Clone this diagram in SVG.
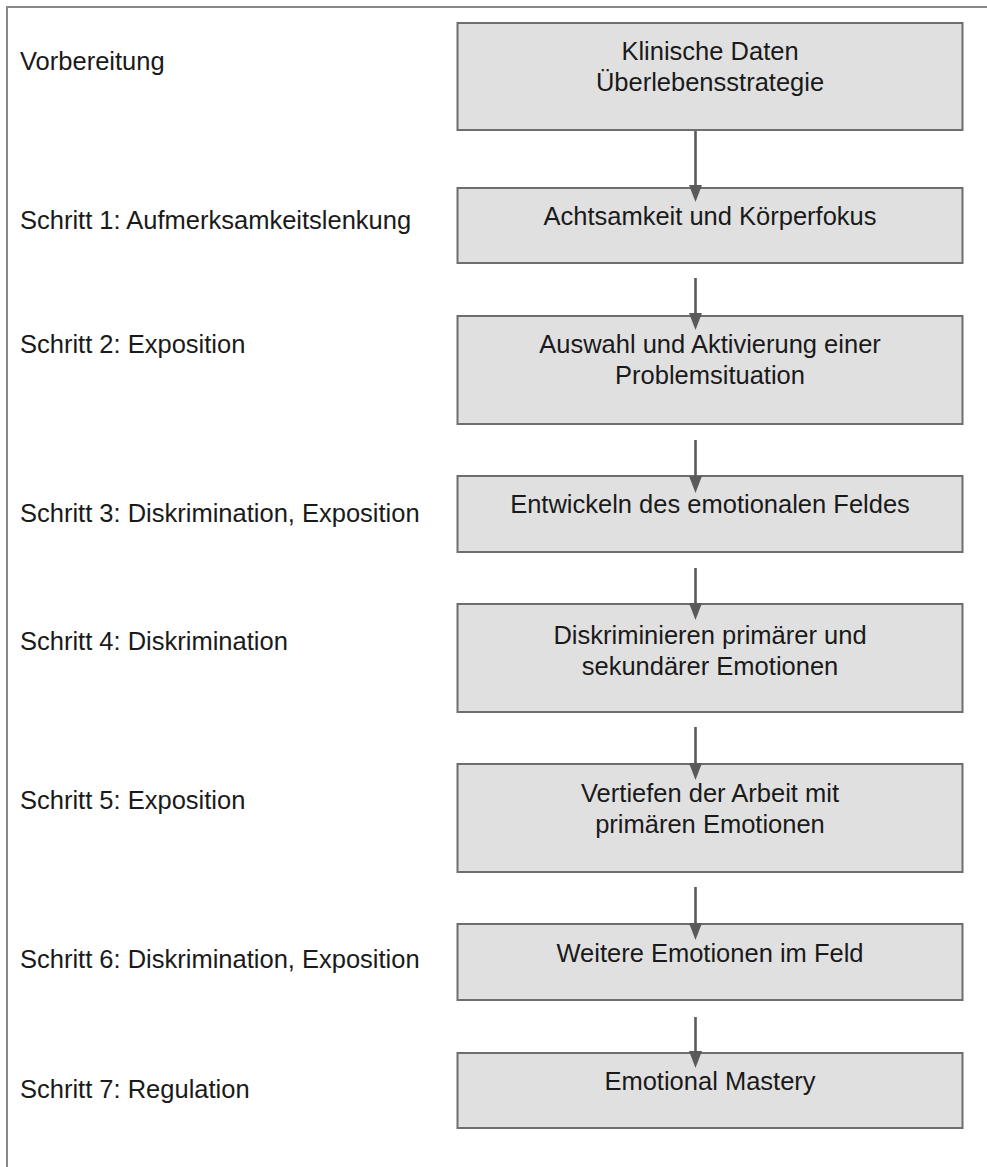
<svg xmlns="http://www.w3.org/2000/svg" width="987" height="1167" viewBox="0 0 987 1167">
<style>
.frame{stroke:#888;stroke-width:2;fill:none}
.box{fill:#e0e0e0;stroke:#6e6e6e;stroke-width:2}
.t{font-family:"Liberation Sans",Arial,sans-serif;font-size:25.5px;fill:#1a1a1a}
.c{text-anchor:middle}
.arr{stroke:#5a5a5a;stroke-width:2.6;fill:none;marker-end:url(#ah)}
</style>
<defs>
<marker id="ah" markerUnits="userSpaceOnUse" viewBox="0 0 17 13" refX="7" refY="6.5" markerWidth="17" markerHeight="13" orient="auto">
<path d="M0,0 L17,6.5 L0,13 z" fill="#5a5a5a"/>
</marker>
</defs>
<rect width="987" height="1167" fill="#fff"/>
<path class="frame" d="M7,1167 L7,7 L987,7"/>
<g id="labels">
<text class="t" x="20" y="70">Vorbereitung</text>
<text class="t" x="20" y="229">Schritt 1: Aufmerksamkeitslenkung</text>
<text class="t" x="20" y="353">Schritt 2: Exposition</text>
<text class="t" x="20" y="522">Schritt 3: Diskrimination, Exposition</text>
<text class="t" x="20" y="650">Schritt 4: Diskrimination</text>
<text class="t" x="20" y="809">Schritt 5: Exposition</text>
<text class="t" x="20" y="968">Schritt 6: Diskrimination, Exposition</text>
<text class="t" x="20" y="1098">Schritt 7: Regulation</text>
</g>
<g id="node1"><rect class="box" x="457.5" y="23" width="505" height="107"/>
<text class="t c" x="710" y="60">Klinische Daten</text><text class="t c" x="710" y="91">Überlebensstrategie</text></g>
<g id="node2"><rect class="box" x="457.5" y="188" width="505" height="75"/>
<text class="t c" x="710" y="225">Achtsamkeit und Körperfokus</text></g>
<g id="node3"><rect class="box" x="457.5" y="316" width="505" height="108"/>
<text class="t c" x="710" y="353">Auswahl und Aktivierung einer</text><text class="t c" x="710" y="384">Problemsituation</text></g>
<g id="node4"><rect class="box" x="457.5" y="476" width="505" height="76"/>
<text class="t c" x="710" y="513">Entwickeln des emotionalen Feldes</text></g>
<g id="node5"><rect class="box" x="457.5" y="604" width="505" height="108"/>
<text class="t c" x="710" y="644">Diskriminieren primärer und</text><text class="t c" x="710" y="675">sekundärer Emotionen</text></g>
<g id="node6"><rect class="box" x="457.5" y="764" width="505" height="108"/>
<text class="t c" x="710" y="802">Vertiefen der Arbeit mit</text><text class="t c" x="710" y="833">primären Emotionen</text></g>
<g id="node7"><rect class="box" x="457.5" y="924" width="505" height="76"/>
<text class="t c" x="710" y="962">Weitere Emotionen im Feld</text></g>
<g id="node8"><rect class="box" x="457.5" y="1053" width="505" height="75"/>
<text class="t c" x="710" y="1090">Emotional Mastery</text></g>
<g id="connectors">
<line class="arr" x1="695.5" y1="131" x2="695.5" y2="192"/>
<line class="arr" x1="695.5" y1="278" x2="695.5" y2="320"/>
<line class="arr" x1="695.5" y1="440" x2="695.5" y2="483"/>
<line class="arr" x1="695.5" y1="568" x2="695.5" y2="610"/>
<line class="arr" x1="695.5" y1="727" x2="695.5" y2="770"/>
<line class="arr" x1="695.5" y1="887" x2="695.5" y2="930"/>
<line class="arr" x1="695.5" y1="1017" x2="695.5" y2="1058"/>
</g>
</svg>
